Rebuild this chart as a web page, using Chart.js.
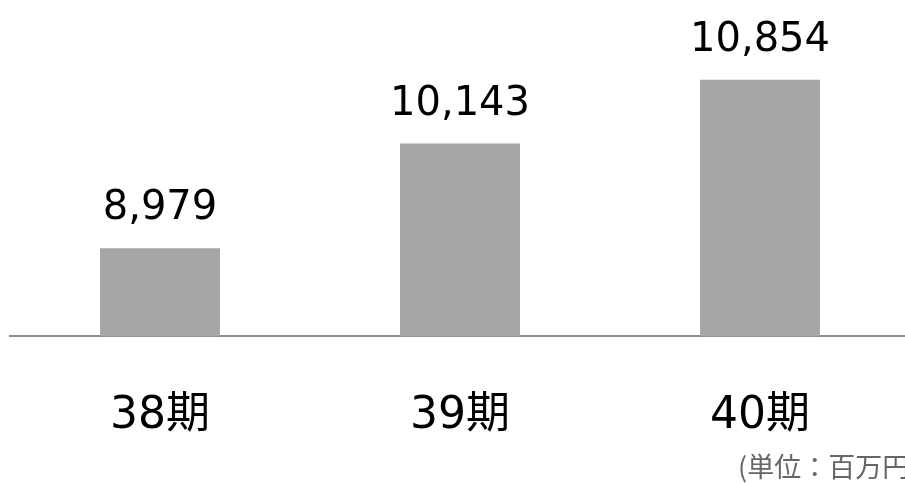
<!DOCTYPE html>
<html>
<head>
<meta charset="utf-8">
<script src="https://cdn.jsdelivr.net/npm/chart.js@4/dist/chart.umd.min.js"></script>
<style>
    body { margin: 0; background: #fff; }
    #wrap { position: relative; width: 905px; height: 483px; overflow: hidden; }
    #wrap canvas { display: block; }
    #unit {
        position: absolute; left: 738px; top: 452px;
        font-family: "Noto Sans CJK JP", sans-serif; font-size: 27px; line-height: 1;
        color: #666; white-space: nowrap;
    }
</style>
</head>
<body>
<div id="wrap">
    <canvas id="js--chart" width="920" height="497"></canvas>
    <div id="unit">(単位：百万円)</div>
</div>
<script>
// 売上高 (百万円)
const labels = ["38期", "39期", "40期"];
const values = [8979, 10143, 10854];

// 棒の上に数値を書く
const valueLabels = {
    id: "valueLabels",
    afterDatasetsDraw(chart) {
        const ctx = chart.ctx;
        const meta = chart.getDatasetMeta(0);
        ctx.save();
        ctx.font = '40px "DejaVu Sans"';
        ctx.fillStyle = "#000";
        ctx.textAlign = "center";
        ctx.textBaseline = "alphabetic";
        meta.data.forEach(function (bar, i) {
            ctx.fillText(values[i].toLocaleString("en-US"), bar.x, bar.y - 29);
        });
        ctx.restore();
    }
};

const data = {
    labels: labels,
    datasets: [
        {
            data: values,
            backgroundColor: "#a6a6a6",
            categoryPercentage: 1,
            barPercentage: 0.4
        }
    ]
};

const config = {
    type: "bar",
    data: data,
    options: {
        responsive: false,
        animation: false,
        devicePixelRatio: 1,
        layout: { padding: { left: 10, right: 10, top: 0, bottom: 0 } },
        plugins: { legend: { display: false }, tooltip: { enabled: false } },
        scales: {
            x: {
                grid: { display: false, drawTicks: false },
                border: { display: true, color: "#8c8c8c", width: 2 },
                ticks: {
                    padding: 54,
                    color: "#000",
                    font: { family: '"DejaVu Sans", "Noto Sans CJK JP"', size: 44 }
                }
            },
            y: {
                display: false,
                min: 8000,
                max: 11740
            }
        }
    },
    plugins: [valueLabels]
};

new Chart(document.getElementById("js--chart"), config);
</script>
</body>
</html>
